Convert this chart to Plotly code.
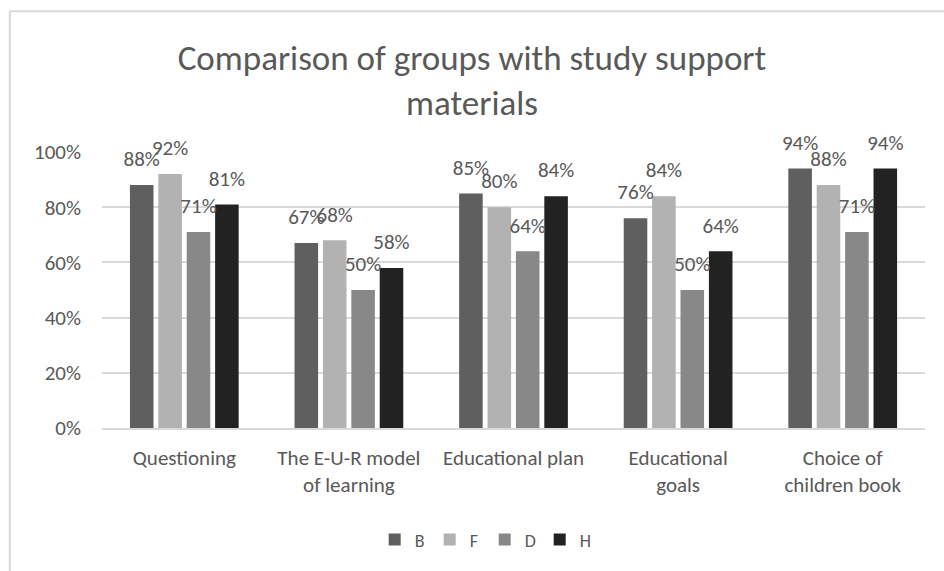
import plotly.graph_objects as go

categories = ["Questioning", "The E-U-R model<br>of learning", "Educational plan",
              "Educational<br>goals", "Choice of<br>children book"]
series_names = ["B", "F", "D", "H"]
B = [0.88, 0.67, 0.85, 0.76, 0.94]
F = [0.92, 0.68, 0.80, 0.84, 0.88]
D = [0.71, 0.50, 0.64, 0.50, 0.71]
H = [0.81, 0.58, 0.84, 0.64, 0.94]
colors = ["#5f5f5f", "#b2b2b2", "#888888", "#222222"]
tickvals = [0, 0.2, 0.4, 0.6, 0.8, 1.0]

FONT = "Calibri Light, Carlito, Lato, sans-serif"
TXT = "#595959"

fig = go.Figure()
for name, vals, col in zip(series_names, [B, F, D, H], colors):
    fig.add_trace(go.Bar(
        x=categories, y=vals, name=name, marker_color=col, marker_line_width=0,
        hoverinfo="skip",
    ))
for name, vals in zip(series_names, [B, F, D, H]):
    fig.add_trace(go.Scatter(
        x=categories, y=vals, name=name + " labels", mode="markers+text",
        marker=dict(size=20, opacity=0), showlegend=False, hoverinfo="skip",
        text=[f"{round(v * 100)}%" for v in vals], textposition="top center",
        cliponaxis=False,
        textfont=dict(family=FONT, size=21, color=TXT),
    ))

fig.update_layout(
    width=944, height=571,
    paper_bgcolor="white", plot_bgcolor="white",
    margin=dict(l=102, r=19, t=152, b=143),
    barmode="group", bargap=0.31, bargroupgap=0.17,
    scattermode="group", scattergap=0.31,
    title=dict(text="Comparison of groups with study support<br>materials",
               x=0.5, xanchor="center", y=0.878, yanchor="middle",
               font=dict(family=FONT, size=35, color=TXT)),
    font=dict(family=FONT, color=TXT),
    legend=dict(orientation="h", x=0.465, xanchor="center", y=-0.405, yanchor="middle",
                font=dict(family=FONT, size=18, color=TXT), itemwidth=30,
                entrywidth=10, entrywidthmode="pixels", traceorder="normal"),
    yaxis=dict(range=[0, 1], tickvals=tickvals, tickformat=".0%",
               gridcolor="#d9d9d9", gridwidth=1.5, zeroline=False,
               showline=False, ticks="", ticklabelstandoff=20,
               tickfont=dict(family=FONT, size=21, color=TXT)),
    xaxis=dict(showline=True, linecolor="#d9d9d9", linewidth=1.5,
               ticks="outside", ticklen=10, tickcolor="rgba(0,0,0,0)",
               tickfont=dict(family=FONT, size=21, color=TXT)),
    shapes=[
        dict(type="line", xref="paper", yref="paper", x0=-0.112, x1=1.1, y0=1.51, y1=1.51,
             line=dict(color="#d9d9d9", width=2)),
        dict(type="line", xref="paper", yref="paper", x0=-0.112, x1=-0.112, y0=1.51, y1=-0.6,
             line=dict(color="#d9d9d9", width=2)),
    ],
)

fig.write_html("out.html")
